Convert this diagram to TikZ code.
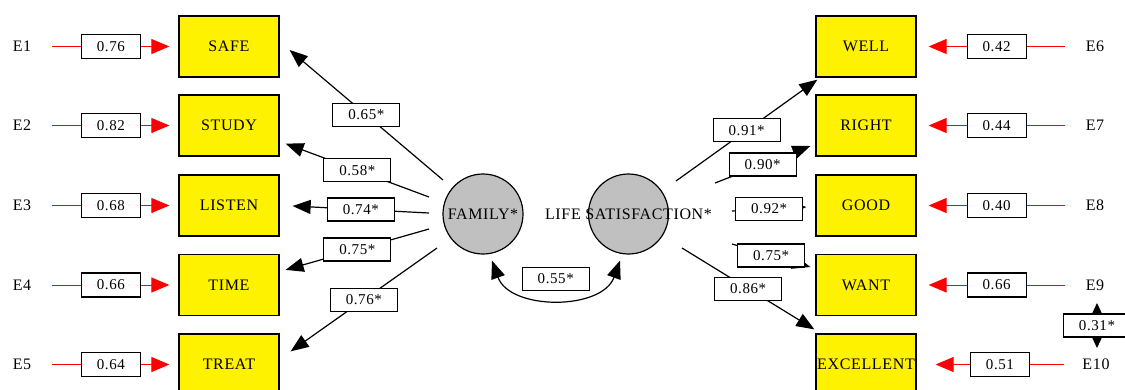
\documentclass[tikz,border=0pt]{standalone}
\usepackage{fontspec}
\setmainfont{Liberation Serif}[LetterSpace=4]
\usetikzlibrary{arrows.meta,calc}
\definecolor{lgray}{RGB}{192,192,192}
\begin{document}
\begin{tikzpicture}[x=1pt,y=-1pt,
  ind/.style={draw, line width=1.3pt, fill=yellow, minimum width=100pt, minimum height=61pt, inner sep=0pt, font=\fontsize{16}{16}\selectfont},
  lat/.style={circle, draw, line width=1.2pt, fill=lgray, minimum size=80pt, inner sep=0pt},
  errname/.style={font=\fontsize{16}{16}\selectfont, inner sep=0pt},
  elab/.style={draw=black, text=black, line width=1.2pt, fill=white, minimum width=59pt, minimum height=24pt, inner sep=0pt, font=\fontsize{15}{15}\selectfont},
  plab/.style={draw, line width=1.2pt, fill=white, minimum width=67pt, minimum height=23pt, inner sep=0pt, font=\fontsize{15}{15}\selectfont},
  conn/.style={line width=1.2pt, -{Triangle[length=18pt,width=14pt]}},
  rconn/.style={red, line width=1pt, -{Triangle[length=18pt,width=15pt]}},
  dconn/.style={line width=1.2pt, {Triangle[length=18pt,width=14pt]}-{Triangle[length=18pt,width=14pt]}},
  sconn/.style={line width=1.2pt, {Triangle[length=11pt,width=10pt]}-{Triangle[length=11pt,width=10pt]}},
]
\fill[white] (0,0) rectangle (1125,389);
\useasboundingbox (0,0) rectangle (1125,389);

% indicators
\node[ind] (safe)   at (229,46.5)  {SAFE};
\node[ind] (study)  at (229,125.5) {STUDY};
\node[ind] (listen) at (229,205.5) {LISTEN};
\node[ind] (time)   at (229,285)   {TIME};
\node[ind] (treat)  at (229,364.5) {TREAT};
\node[ind] (well)   at (866,46.5)  {WELL};
\node[ind] (right)  at (866,125.5) {RIGHT};
\node[ind] (good)   at (866,205.5) {GOOD};
\node[ind] (want)   at (866,285)   {WANT};
\node[ind] (excel)  at (866,364.5) {EXCELLENT};

% latent variables
\node[lat, label={center:\fontsize{16}{16}\selectfont FAMILY*}] (fam) at (483,214) {};
\node[lat, label={center:\fontsize{16}{16}\selectfont LIFE SATISFACTION*}] (ls) at (628.5,214) {};

% error terms
\node[errname] (e1) at (22,46.5) {E1};
\node[errname] (e2) at (22,125.5) {E2};
\node[errname] (e3) at (22,205.5) {E3};
\node[errname] (e4) at (22,285) {E4};
\node[errname] (e5) at (22,364.5) {E5};
\node[errname] (e6) at (1095,46.5) {E6};
\node[errname] (e7) at (1095,125.5) {E7};
\node[errname] (e8) at (1095,205.5) {E8};
\node[errname] (e9) at (1095,285) {E9};
\node[errname] (e10) at (1096,364.5) {E10};

% error paths
\draw[rconn] ($(e1.east)+(21,0)$) -- node[elab]{0.76} ($(safe.west)+(-9,0)$);
\draw[rconn] ($(e2.east)+(21,0)$) -- node[elab]{0.82} ($(study.west)+(-9,0)$);
\draw[rconn] ($(e3.east)+(21,0)$) -- node[elab]{0.68} ($(listen.west)+(-9,0)$);
\draw[rconn] ($(e4.east)+(21,0)$) -- node[elab]{0.66} ($(time.west)+(-9,0)$);
\draw[rconn] ($(e5.east)+(21,0)$) -- node[elab]{0.64} ($(treat.west)+(-9,0)$);
\draw[rconn] ($(e6.west)+(-21,0)$) -- node[elab]{0.42} ($(well.east)+(12,0)$);
\draw[rconn] ($(e7.west)+(-21,0)$) -- node[elab]{0.44} ($(right.east)+(12,0)$);
\draw[rconn] ($(e8.west)+(-21,0)$) -- node[elab]{0.40} ($(good.east)+(12,0)$);
\draw[rconn] ($(e9.west)+(-21,0)$) -- node[elab]{0.66} ($(want.east)+(12,0)$);
\draw[rconn] ($(e10.west)+(-18,0)$) -- node[elab]{0.51} ($(excel.east)+(19,0)$);

% loadings FAMILY
\draw[conn] ($(fam.center)+(-40,-34)$) -- node[plab]{0.65*} ($(safe.east)+(10,3.5)$);
\draw[conn] ($(fam.center)+(-54,-17)$) -- node[plab]{0.58*} ($(study.south east)+(6,-13)$);
\draw[conn] ($(fam.center)+(-54,-1)$) -- node[plab]{0.74*} ($(listen.east)+(13,0.5)$);
\draw[conn] ($(fam.center)+(-54,15)$) -- node[plab]{0.75*} ($(time.north east)+(6,16)$);
\draw[conn] ($(fam.center)+(-46,34)$) -- node[plab]{0.76*} ($(treat.north east)+(11,18)$);

% loadings LIFE SATISFACTION
\draw[conn] ($(ls.center)+(47.5,-33)$) -- node[plab]{0.91*} ($(well.south west)+(2,2)$);
\draw[conn] ($(ls.center)+(86.5,-31)$) -- node[plab]{0.90*} ($(right.west)+(-5,20.5)$);
\draw[conn] ($(ls.center)+(103.5,-3)$) -- node[plab]{0.92*} ($(good.west)+(-9,1.5)$);
\draw[conn] ($(ls.center)+(103.5,30)$) -- node[plab]{0.75*} ($(want.west)+(-5,-18)$);
\draw[conn] ($(ls.center)+(53.5,34)$) -- node[plab]{0.86*} ($(excel.north west)+(-1,-4)$);

% covariances
\draw[dconn] ($(fam.south)+(9,6)$) .. controls +(18,50) and +(-18,50) .. ($(ls.south)+(-8.5,6)$);
\node[plab] (c1) at ($(fam.center)!0.5!(ls.center)+(0,65)$) {0.55*};
\draw[sconn] ($(e9.center)+(2,18)$) -- node[plab]{0.31*} ($(e10.center)+(1,-16.5)$);
\end{tikzpicture}
\end{document}
